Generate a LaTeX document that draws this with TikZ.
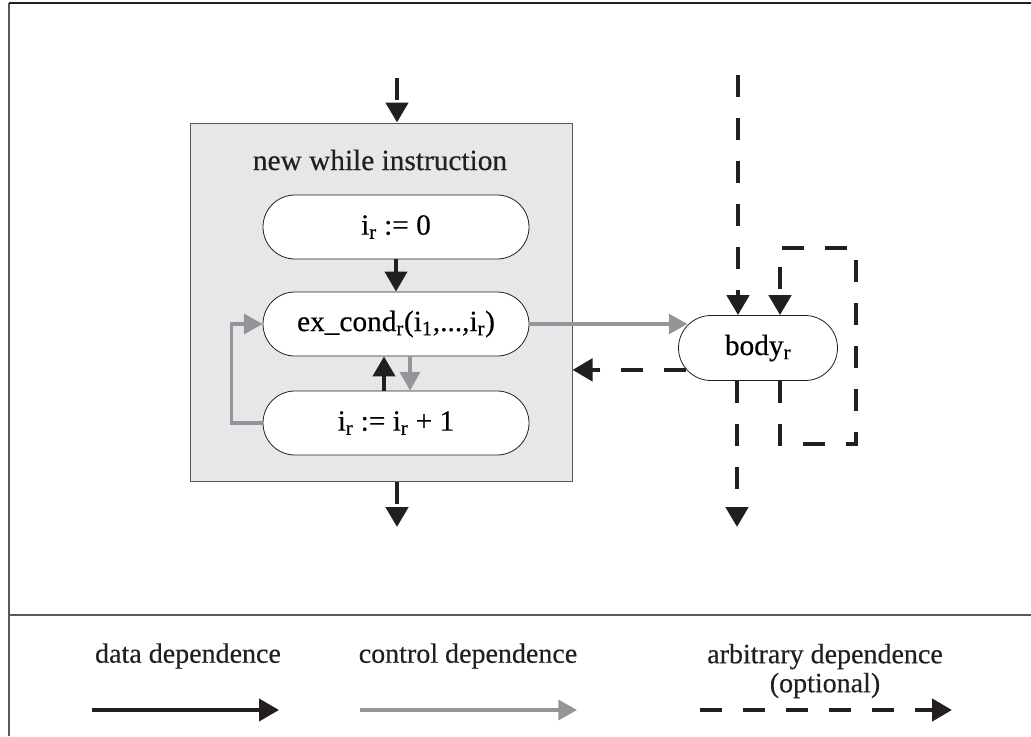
\documentclass[tikz,border=0pt]{standalone}
\usepackage{fontspec}
\setmainfont[FakeBold=0.4,AutoFakeBold=0.4]{Liberation Serif}
\usetikzlibrary{arrows.meta,shapes.misc,calc}

\definecolor{inkblack}{HTML}{231F20}
\definecolor{ctrlgray}{HTML}{939598}
\definecolor{panelgray}{HTML}{E6E7E8}
\definecolor{edgegray}{HTML}{58595B}

\begin{document}
\begin{tikzpicture}[x=0.75pt,y=-0.75pt,
  stmt/.style={rounded rectangle, draw=inkblack, line width=0.6pt, fill=white,
    minimum width=199.5pt, minimum height=48pt, inner sep=0pt,
    font=\fontsize{22}{26}\selectfont\bfseries},
  datadep/.style={draw=inkblack, line width=3pt,
    -{Triangle[width=16.5pt,length=15pt]}},
  ctrldep/.style={draw=ctrlgray, line width=2.5pt,
    -{Triangle[width=15pt,length=14pt]}},
  anydep/.style={draw=inkblack, line width=3.5pt,
    dash pattern=on 16.5pt off 15.75pt,
    -{Triangle[width=16.5pt,length=15pt]}},
  legtext/.style={inner sep=0pt, text=inkblack, font=\fontsize{21}{21.75}\selectfont\bfseries}
]
\useasboundingbox (0,0) rectangle (1031,736);

% outer frame and legend divider
\draw[edgegray, line width=1.5pt] (9,736) -- (9,3);
\draw[inkblack, line width=1.5pt] (9,3) -- (1031,3);
\draw[edgegray, line width=1.2pt] (9,615) -- (1031,615);

% the while-instruction panel
\node[draw=edgegray, fill=panelgray, line width=0.75pt, inner sep=0pt,
      minimum width=286.5pt, minimum height=268.5pt] (loop) at (381,302) {};
\node[font=\fontsize{22}{26}\selectfont\bfseries, text=inkblack, inner sep=0pt] (title) at (380,160) {new while instruction};

\node[stmt] (init) at (396,227) {i\textsubscript{r} := 0};
\node[stmt] (cond) at (396,324) {ex\_cond\textsubscript{r}(i\textsubscript{1},...,i\textsubscript{r})};
\node[stmt] (incr) at (396,423) {i\textsubscript{r} := i\textsubscript{r} + 1};

\node[stmt, minimum width=119.25pt, minimum height=48.75pt] (body) at (758,348) {body\textsubscript{r}};

% free ends of the open connectors
\coordinate (inA) at (397,78);
\coordinate (outA) at (397,527);
\coordinate (inB) at (738,75);
\coordinate (outB) at (737,527);

% connectors inside the panel
\draw[datadep] (init.south) -- (cond.north);
\draw[datadep] ($(incr.north)+(-12,0)$) -- ($(cond.south)+(-12,0)$);
\draw[ctrldep] ($(cond.south)+(14,0)$) -- ($(incr.north)+(14,0)$);
\draw[ctrldep] (incr.west) -- ++(-31,0) |- (cond.west);

% connectors to and from the panel
\draw[anydep] (inA) -- (inA |- loop.north);
\draw[anydep] (outA |- loop.south) -- (outA);
\draw[ctrldep] (cond.east) -- (cond.east -| body.162);
\draw[anydep] (body.197) -- (body.197 -| loop.east);

% connectors of the body
\draw[anydep] (inB) -- (inB |- body.north);
\draw[anydep] (outB |- body.south) -- (outB);
\draw[anydep] ($(body.south)+(22,0)$) -- ++(0,63) -- ++(76,0) -- ++(0,-196) -- ++(-76,0) -- ($(body.north)+(22,0)$);

% legend
\node[legtext] (lgData) at (188,656) {data dependence};
\node[legtext] (lgCtrl) at (468,656) {control dependence};
\node[legtext, align=center] (lgAny) at (825,671) {arbitrary dependence\\(optional)};

\coordinate (dA) at (92,710);
\coordinate (dB) at (279,710);
\coordinate (cA) at (360,710);
\coordinate (cB) at (577,710);
\coordinate (aA) at (700,710);
\coordinate (aB) at (952,710);
\draw[datadep] (dA) -- (dB);
\draw[ctrldep] (cA) -- (cB);
\draw[anydep] (aA) -- (aB);
\end{tikzpicture}
\end{document}
